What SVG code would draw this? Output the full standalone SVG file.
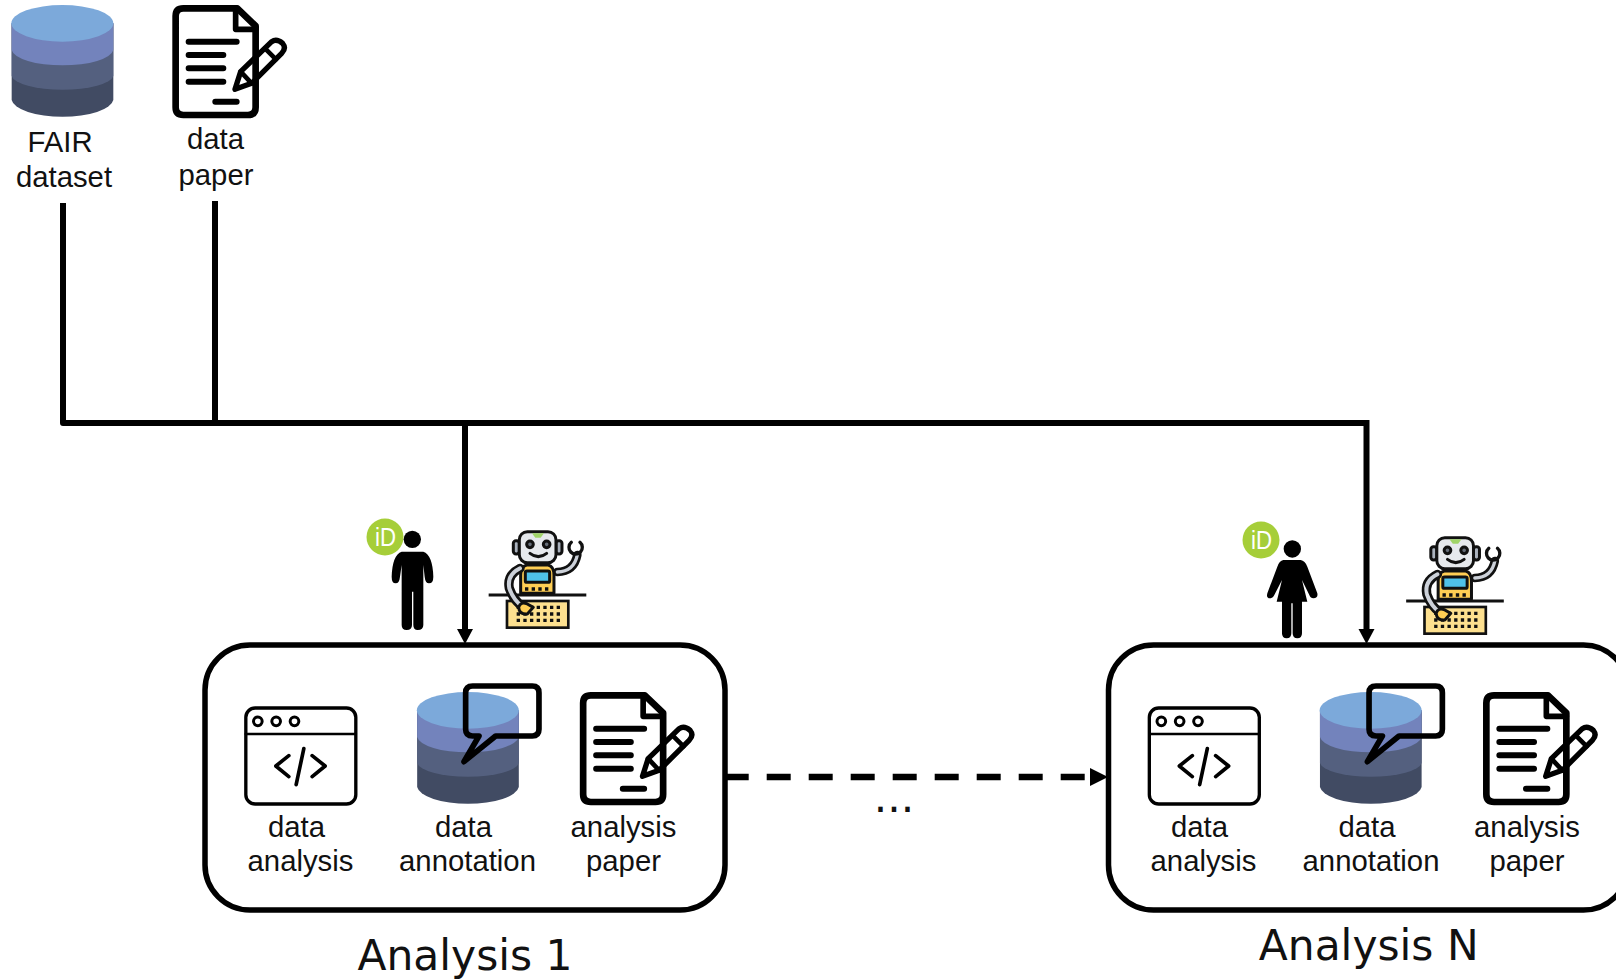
<svg xmlns="http://www.w3.org/2000/svg" width="1616" height="980" viewBox="0 0 1616 980">
<style>
.t{font-family:"Liberation Sans",Arial,sans-serif;font-size:29.3px;fill:#111;text-anchor:middle}
.h{font-family:"DejaVu Sans",Verdana,sans-serif;font-size:42.4px;fill:#111;text-anchor:middle}
.box{fill:#fff;stroke:#000;stroke-width:5.5}
.ln{fill:none;stroke:#000;stroke-linecap:round;stroke-linejoin:round}
.r{stroke:#111;stroke-width:9;stroke-linejoin:round;stroke-linecap:round}
.conn{fill:none;stroke:#000}
</style>
<defs>
<g id="cyl" transform="scale(.3333)">
<path d="M35 70V300A153 55 0 0 0 340 300V70Z" fill="#414b63"/>
<path d="M35 70V228A153 45 0 0 0 340 228V70Z" fill="#54607f"/>
<path d="M35 70V150A153 50 0 0 0 340 150V70Z" fill="#7383bc"/>
<ellipse cx="187" cy="70" rx="153" ry="55" fill="#7ca9da"/>
</g>
<g id="doc" transform="scale(.3333)">
<path class="ln" d="M550 25H712L767 78V322Q767 345 744 345H550Q527 345 527 322V48Q527 25 550 25Z" stroke-width="20" fill="#fff"/>
<path class="ln" d="M707 25V88H767" stroke-width="17"/>
<path class="ln" d="M566 125H710M566 165H670M566 205H670M566 245H670M646 305H710" stroke-width="18"/>
<path class="ln" d="M705 268L722 215L815 125Q830 115 848 130Q860 145 845 160L755 250Z" stroke-width="16" fill="#fff"/>
<path class="ln" d="M722 215L755 250M795 145L828 178" stroke-width="14"/>
</g>
<g id="code" transform="scale(.3333)">
<rect x="136" y="204" width="330" height="288" rx="28" fill="#fff" stroke="#000" stroke-width="10"/>
<path class="ln" d="M136 282H466" stroke-width="8"/>
<circle cx="172" cy="244" r="13" fill="#fff" stroke="#000" stroke-width="9"/>
<circle cx="227" cy="244" r="13" fill="#fff" stroke="#000" stroke-width="9"/>
<circle cx="282" cy="244" r="13" fill="#fff" stroke="#000" stroke-width="9"/>
<path class="ln" d="M265 347L226 378L265 410M335 347L374 378L335 410M310 326L287 434" stroke-width="11"/>
</g>
<g id="bubble" transform="scale(.3333)">
<path class="ln" d="M806 138H985Q1005 138 1005 158V268Q1005 288 985 288H875L780 365L825 288H806Q785 288 785 268V158Q785 138 806 138Z" fill="#fff" stroke-width="17"/>
</g>
<g id="robot" transform="scale(.3333)">
<path d="M622 216Q672 215 682 165" fill="none" stroke="#111" stroke-width="26" stroke-linecap="round"/>
<path d="M622 216Q672 215 682 165" fill="none" stroke="#ccd1d9" stroke-width="10" stroke-linecap="round"/>
<path d="M664 127A20 20 0 1 0 690 127" fill="none" stroke="#111" stroke-width="10" stroke-linecap="round"/>
<rect class="r" x="490" y="122" width="18" height="40" rx="8" fill="#aab2bd"/>
<rect class="r" x="618" y="122" width="18" height="40" rx="8" fill="#aab2bd"/>
<rect class="r" x="508" y="95" width="110" height="93" rx="24" fill="#e6e9ed"/>
<path d="M546 100H582L572 113H556Z" fill="#a0d468"/>
<circle class="r" cx="540" cy="133" r="10" fill="#656d78"/>
<circle class="r" cx="590" cy="133" r="10" fill="#656d78"/>
<path class="r" d="M540 160Q565 180 590 160" fill="none"/>
<path class="r" d="M530 195H595Q612 200 612 225V280H512V225Q512 200 530 195Z" fill="#ffce54"/>
<rect class="r" x="526" y="213" width="73" height="34" rx="5" fill="#4fc1e9"/>
<path d="M530 267h.1M550 267h.1M570 267h.1M590 267h.1" stroke="#111" stroke-width="10" stroke-linecap="square"/>
<path d="M416 285H709" stroke-width="9" stroke="#111" fill="none"/>
<rect x="471" y="303" width="184" height="80" fill="#fde08f" stroke="#111" stroke-width="8"/>
<path d="M500 322H640M500 342H640M500 361H640" stroke="#111" stroke-width="10" stroke-dasharray="10 10" fill="none"/>
<path d="M510 205Q470 225 478 265Q490 300 518 320" fill="none" stroke="#111" stroke-width="28" stroke-linecap="round"/>
<path d="M510 205Q470 225 478 265Q490 300 518 320" fill="none" stroke="#ccd1d9" stroke-width="12" stroke-linecap="round"/>
<path class="r" d="M506 322Q512 303 532 312L550 322L532 342Q508 344 506 322Z" fill="#ffce54"/>
</g>
<g id="orcid"><circle r="18.500" fill="#a6ce39"/><text x="-10" y="9" font-family="'Liberation Sans',sans-serif" font-size="25" textLength="21" lengthAdjust="spacingAndGlyphs" fill="#fff">iD</text></g>
</defs>
<rect width="1616" height="980" fill="#fff"/>

<g id="connectors" class="conn">
<path d="M63 203V423H1366.500" stroke-width="6" stroke-linejoin="round"/>
<path d="M215 201V423" stroke-width="6"/>
<path d="M465 423V630" stroke-width="6"/>
<path d="M1366.500 420V630" stroke-width="6"/>
<path d="M724.700 777H1085" stroke-width="6.500" stroke-dasharray="24 18"/>
<path d="M457 629H473L465 644Z" fill="#000" stroke="none"/>
<path d="M1358.500 629H1374.500L1366.500 644Z" fill="#000" stroke="none"/>
<path d="M1090 768V786L1108 777Z" fill="#000" stroke="none"/>
</g>

<g id="fair-dataset">
<use href="#cyl"/>
<text class="t" x="60" y="152">FAIR</text><text class="t" x="64" y="187">dataset</text>
</g>
<g id="data-paper">
<use href="#doc"/>
<text class="t" x="215.500" y="149">data</text><text class="t" x="216" y="185">paper</text>
</g>

<g id="person-1">
<use href="#orcid" x="385" y="537"/>
<g transform="translate(350 500) scale(.3333)">
<circle cx="187" cy="118" r="26"/>
<path d="M155 155H220Q248 165 250 230Q250 250 237 250Q226 250 224 230L220 195V375Q220 390 203 390Q190 390 190 375V275H186V375Q186 390 170 390Q155 390 155 375V195L150 230Q148 250 137 250Q125 250 125 230Q127 165 155 155Z"/>
</g>
</g>
<g id="robot-1" transform="translate(350 500)"><use href="#robot"/></g>

<g id="person-2">
<use href="#orcid" x="1261" y="540"/>
<g transform="translate(1230 520) scale(.3333)">
<circle cx="187" cy="87" r="26"/>
<path d="M160 120H212Q225 122 232 140L262 220Q265 235 250 235Q242 235 238 225L216 180L232 245H216V340Q216 355 202 355Q188 355 188 340V250H184V340Q184 355 170 355Q156 355 156 340V245H140L156 180L133 225Q128 235 120 235Q108 235 112 220L142 140Q148 122 160 120Z"/>
</g>
</g>
<g id="robot-2" transform="translate(1267.500 506)"><use href="#robot"/></g>

<g id="analysis-1">
<rect class="box" x="205" y="645" width="520" height="265" rx="45"/>
<g transform="translate(200.500 640)"><use href="#code"/></g>
<g transform="translate(405.500 687)"><use href="#cyl"/></g>
<g transform="translate(204 640)"><use href="#bubble"/></g>
<g transform="translate(407.500 687)"><use href="#doc"/></g>
<text class="t" x="296.500" y="837">data</text><text class="t" x="300.500" y="870.500">analysis</text>
<text class="t" x="463.500" y="837">data</text><text class="t" x="467.500" y="870.500">annotation</text>
<text class="t" x="623.500" y="837">analysis</text><text class="t" x="623.500" y="870.500">paper</text>
<text class="h" x="465" y="970">Analysis 1</text>
</g>
<g id="analysis-n">
<rect class="box" x="1108.500" y="645" width="520" height="265" rx="45"/>
<g transform="translate(1104 640)"><use href="#code"/></g>
<g transform="translate(1308.300 687)"><use href="#cyl"/></g>
<g transform="translate(1107.400 640)"><use href="#bubble"/></g>
<g transform="translate(1310.700 687)"><use href="#doc"/></g>
<text class="t" x="1199.500" y="837">data</text><text class="t" x="1203.500" y="870.500">analysis</text>
<text class="t" x="1367" y="837">data</text><text class="t" x="1371" y="870.500">annotation</text>
<text class="t" x="1527" y="837">analysis</text><text class="t" x="1527" y="870.500">paper</text>
<text class="h" x="1368.700" y="960">Analysis N</text>
</g>
<text id="ellipsis" class="h" x="894" y="812">...</text>
</svg>
